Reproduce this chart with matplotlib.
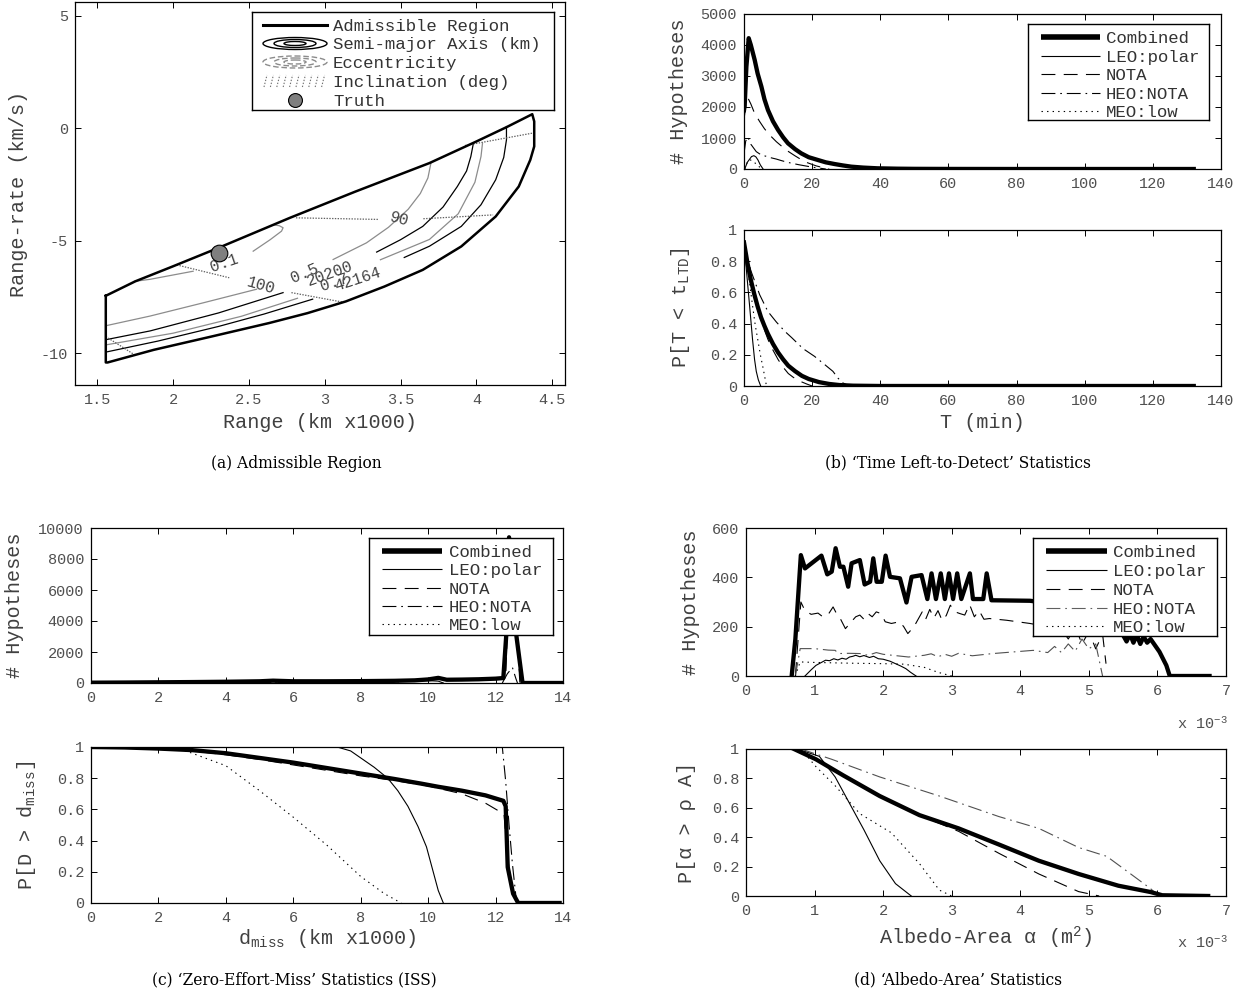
import numpy as np
import matplotlib
matplotlib.use("Agg")
import matplotlib.pyplot as plt
from matplotlib.patches import Ellipse
from matplotlib.ticker import FuncFormatter

nan = np.nan

# ---------------- (a) admissible region ----------------
region_x = [1.556, 1.75, 2.0, 2.3, 2.77, 3.2, 3.69, 4.0, 4.2, 4.368, 4.381, 4.381, 4.355, 4.279,
            4.127, 3.90, 3.646, 3.393, 3.139, 2.886, 2.633, 2.252, 1.872, 1.568, 1.556, 1.556]
region_y = [-7.44, -6.80, -6.13, -5.31, -3.98, -2.82, -1.55, -0.59, 0.05, 0.62, 0.3, -0.81, -1.41, -2.59,
            -3.92, -5.25, -6.29, -7.03, -7.69, -8.21, -8.65, -9.25, -9.84, -10.4, -10.4, -7.44]

# semi-major axis contours (km)
sma1_x = [1.556, 1.848, 2.3, 2.725, nan, 3.342, 3.5, 3.646, 3.78, 3.874, 3.935, 3.963, 3.98]
sma1_y = [-9.39, -9.0, -8.2, -7.30, nan, -5.50, -4.95, -4.36, -3.5, -2.59, -1.9, -1.26, -0.67]
sma2_x = [1.556, 1.9, 2.3, 2.6, 2.92, nan, 3.524, 3.69, 3.9, 4.03, 4.127, 4.18, 4.198, 4.198]
sma2_y = [-9.94, -9.45, -8.8, -8.25, -7.59, nan, -5.74, -5.24, -4.36, -3.4, -2.29, -1.3, -0.52, 0.07]

# eccentricity contours
ecc1_x = [1.746, 1.847, 2.132, nan, 2.528, 2.64, 2.715, 2.725, 2.70, 2.67]
ecc1_y = [-6.80, -6.71, -6.35, nan, -5.46, -4.95, -4.57, -4.42, -4.33, -4.30]
ecc2_x = [1.556, 1.848, 2.2, 2.55, nan, 3.055, 3.275, 3.42, 3.55, 3.63, 3.68, 3.70]
ecc2_y = [-8.77, -8.34, -7.75, -7.15, nan, -5.83, -5.09, -4.4, -3.6, -2.9, -2.21, -1.55]
ecc3_x = [1.556, 2.0, 2.45, 2.82, nan, 3.367, 3.69, 3.88, 3.99, 4.03, 4.04]
ecc3_y = [-9.62, -9.1, -8.35, -7.55, nan, -5.84, -4.94, -3.8, -2.4, -1.26, -0.67]

# inclination contours (deg)
inc1_x = [2.024, 2.37, nan, 2.78, 3.077, 3.12]
inc1_y = [-6.07, -6.64, nan, -7.30, -7.67, -7.72]
inc2_x = [2.81, 3.35, nan, 3.65, 4.11]
inc2_y = [-3.98, -4.05, nan, -4.02, -3.85]
inc3_x = [3.925, 4.37]
inc3_y = [-0.77, -0.22]
inc4_x = [1.556, 1.746]
inc4_y = [-9.25, -10.06]

contour_labels = ["0.1", "100", "0.5", "20200", "0.7", "42164", "90"]
contour_lab_x = [2.335, 2.578, 2.868, 3.033, 3.06, 3.219, 3.494]
contour_lab_y = [-5.97, -6.98, -6.45, -6.45, -6.86, -6.71, -4.03]
contour_lab_rot = [19, -16, 23, 20, 18, 18, -15]

truth_x, truth_y = 2.304, -5.53

# ---------------- (b) time left-to-detect ----------------
b_comb_t = [0, 0.2, 0.7, 1.38, 2, 3.13, 4, 5.1, 6, 7.04, 8.5, 10, 11.5, 12.9, 15, 16.8, 19, 21.7, 24,
            26.6, 29, 31.5, 35, 39.2, 45, 50, 60, 80, 132]
b_comb_h = [1900, 2050, 3300, 4220, 4000, 3520, 3080, 2660, 2250, 1900, 1540, 1260, 1020, 830, 640, 505,
            380, 290, 215, 160, 115, 75, 45, 22, 10, 5, 2, 0, 0]
b_leo_t = [0.2, 1.0, 2.2, 2.9, 3.5, 4.1, 4.8, 5.6]
b_leo_h = [0, 220, 400, 430, 390, 290, 130, 0]
b_nota_t = [0, 0.6, 1.2, 2, 3.1, 4.6, 6, 7.5, 9.5, 11, 12.4, 14.9, 17.8, 21.2, 23, 25]
b_nota_h = [1600, 2100, 2280, 2100, 1800, 1530, 1300, 1100, 880, 740, 610, 430, 235, 100, 50, 0]
b_heo_t = [0, 0.5, 1.1, 2, 3.6, 5.1, 6.5, 8, 9.5, 11, 13, 16, 20, 24]
b_heo_h = [500, 900, 1040, 800, 560, 450, 410, 360, 320, 270, 210, 140, 60, 0]
b_meo_t = [0.2, 1, 1.7, 2.5, 3.5, 4.5, 5.5]
b_meo_h = [0, 230, 300, 260, 170, 70, 0]

bp_comb_t = [0, 1, 2, 3, 4, 5, 6, 7, 8.5, 10, 11.5, 13, 15, 17, 19, 22, 25, 28, 32, 40, 132]
bp_comb_p = [0.92, 0.79, 0.68, 0.59, 0.51, 0.44, 0.385, 0.335, 0.27, 0.215, 0.17, 0.13, 0.095, 0.065,
             0.045, 0.025, 0.013, 0.006, 0.002, 0, 0]
bp_leo_t = [0, 0.8, 1.7, 2.5, 3.1, 3.6, 4.2, 4.9]
bp_leo_p = [0.92, 0.72, 0.50, 0.30, 0.17, 0.094, 0.04, 0]
bp_nota_t = [0, 1, 2, 3, 4, 5, 6, 7, 8.5, 10, 11.5, 13, 14.5, 16.5, 18.5, 20]
bp_nota_p = [0.92, 0.8, 0.69, 0.6, 0.51, 0.43, 0.36, 0.3, 0.23, 0.17, 0.12, 0.08, 0.055, 0.03, 0.012, 0]
bp_heo_t = [0, 1, 2, 3, 4.6, 7, 9.5, 12, 14, 17.3, 20.7, 23.7, 26.1, 27.6, 29, 31]
bp_heo_p = [0.92, 0.82, 0.74, 0.68, 0.585, 0.478, 0.41, 0.35, 0.31, 0.24, 0.19, 0.137, 0.094, 0.05, 0.02, 0]
bp_meo_t = [0, 1, 2, 2.6, 3.3, 4.1, 4.8, 5.6, 6.6]
bp_meo_p = [0.9, 0.77, 0.6, 0.5, 0.39, 0.29, 0.2, 0.115, 0]

# ---------------- (c) zero-effort-miss ----------------
c_comb_d = [0, 1, 2, 3, 4, 5, 5.4, 6, 7, 8, 9, 9.6, 10.0, 10.3, 10.55, 11, 11.5, 12.0, 12.23, 12.33,
            12.4, 12.5, 12.62, 12.8, 14]
c_comb_h = [20, 30, 45, 60, 80, 110, 150, 110, 110, 120, 140, 170, 230, 330, 210, 220, 240, 280, 320,
            3500, 9400, 6500, 3000, 0, 0]
c_leo_d = [7.3, 8, 9, 9.6, 10, 10.3, 10.45]
c_leo_h = [0, 40, 90, 130, 150, 120, 0]
c_nota_d = [0, 2, 4, 5.4, 6, 8, 10, 10.3, 10.6, 12, 12.3, 12.42, 12.65, 12.72]
c_nota_h = [15, 35, 70, 130, 100, 110, 200, 280, 190, 260, 300, 8000, 2800, 0]
c_heo_d = [12.2, 12.35, 12.5, 12.6, 12.65]
c_heo_h = [0, 600, 1000, 300, 0]
c_meo_d = [2.5, 4, 6, 8, 9.2]
c_meo_h = [0, 30, 40, 30, 0]

cp_comb_d = [0, 1, 2, 3, 4, 5, 6, 7, 8, 9, 9.8, 10.3, 11, 11.7, 12.23, 12.3, 12.36, 12.52, 12.67, 13.9]
cp_comb_p = [1.0, 0.997, 0.99, 0.98, 0.96, 0.93, 0.90, 0.865, 0.83, 0.795, 0.765, 0.745, 0.72, 0.69,
             0.655, 0.62, 0.23, 0.06, 0.0, 0.0]
cp_leo_d = [0, 7.3, 7.7, 8.0, 8.4, 8.8, 9.1, 9.4, 9.7, 9.95, 10.15, 10.3, 10.45]
cp_leo_p = [1, 1, 0.975, 0.93, 0.87, 0.8, 0.72, 0.62, 0.49, 0.36, 0.2, 0.08, 0]
cp_nota_d = [0, 2, 3, 4, 5, 6, 7, 8, 9, 10, 11, 11.7, 12.25, 12.35, 12.5, 12.65]
cp_nota_p = [1.0, 0.99, 0.975, 0.95, 0.92, 0.885, 0.85, 0.815, 0.785, 0.75, 0.70, 0.64, 0.57, 0.3, 0.08, 0]
cp_heo_d = [0, 12.2, 12.3, 12.4, 12.5, 12.6, 12.65]
cp_heo_p = [1, 1, 0.78, 0.5, 0.25, 0.05, 0]
cp_meo_d = [0, 2.5, 3, 4, 5, 6, 7, 8, 8.7, 9.2]
cp_meo_p = [1, 1, 0.96, 0.88, 0.72, 0.55, 0.37, 0.17, 0.06, 0]

# ---------------- (d) albedo-area (x 1e-3 m^2) ----------------
d_comb_a = [0.666, 0.72, 0.80, 0.86, 1.10, 1.185, 1.25, 1.307, 1.37, 1.42, 1.49, 1.54, 1.66, 1.73, 1.81,
            1.856, 1.905, 1.98, 2.036, 2.10, 2.245, 2.34, 2.415, 2.56, 2.645, 2.706, 2.77, 2.84, 2.90,
            2.96, 3.02, 3.08, 3.14, 3.265, 3.31, 3.46, 3.51, 3.58, 4.14, 4.6, 5.0, 5.3, 5.45, 5.5,
            5.55, 5.6, 5.65, 5.7, 5.75, 5.8, 5.85, 5.9, 5.95, 6.03, 6.13, 6.18, 6.76]
d_comb_h = [0, 150, 490, 436, 488, 412, 423, 518, 443, 443, 362, 457, 470, 371, 382,
            477, 382, 382, 488, 402, 396, 298, 402, 409, 312, 416, 312, 416, 312,
            416, 312, 416, 312, 416, 312, 312, 416, 307, 305, 290, 260, 220, 180, 165,
            140, 170, 135, 165, 130, 160, 135, 150, 130, 98, 43, 0, 0]
d_leo_a = [0.86, 0.95, 1.02, 1.1, 1.16, 1.22, 1.28, 1.34, 1.4, 1.46, 1.51, 1.56, 1.6, 1.66, 1.72, 1.8,
           1.86, 1.93, 2.0, 2.1, 2.18, 2.26, 2.33, 2.4, 2.48]
d_leo_h = [0, 25, 43, 55, 64, 62, 70, 65, 72, 68, 77, 80, 84, 78, 83, 75, 80, 70, 68, 60, 50, 40, 30, 15, 0]
d_nota_a = [0.72, 0.80, 0.86, 0.95, 1.05, 1.12, 1.2, 1.27, 1.32, 1.38, 1.45, 1.52, 1.6, 1.66, 1.72, 1.78,
            1.84, 1.9, 1.97, 2.03, 2.12, 2.24, 2.3, 2.36, 2.45, 2.57, 2.62, 2.68, 2.74, 2.8, 2.86, 2.92,
            2.98, 3.05, 3.12, 3.19, 3.26, 3.33, 3.4, 3.47, 3.55, 3.8, 4.14, 4.4, 4.6, 4.7, 4.8, 4.9,
            5.0, 5.1, 5.2, 5.25]
d_nota_h = [0, 300, 265, 250, 255, 240, 250, 280, 253, 230, 192, 215, 240, 247, 230, 253,
            240, 260, 253, 220, 213, 220, 200, 172, 200, 260, 230, 270, 235, 265, 225, 245,
            287, 260, 253, 247, 290, 240, 265, 230, 233, 226, 213, 200, 190, 150, 200, 130,
            180, 110, 170, 50]
d_heo_a = [0.72, 0.79, 1.0, 1.2, 1.3, 1.35, 1.5, 1.66, 1.78, 1.9, 2.0, 2.1, 2.37, 2.6, 2.7, 2.8, 2.9,
           3.0, 3.1, 3.3, 3.6, 4.19, 4.4, 4.5, 4.6, 4.7, 4.8, 4.9, 5.0, 5.1, 5.2]
d_heo_h = [0, 111, 111, 105, 104, 91, 92, 91, 84, 95, 88, 85, 77, 84, 90, 78, 88,
           80, 92, 82, 91, 104, 95, 120, 95, 130, 100, 150, 110, 130, 0]
d_meo_a = [0.72, 0.79, 1.0, 1.5, 2.0, 2.3, 2.6, 2.8, 3.0]
d_meo_h = [0, 57, 55, 52, 50, 48, 35, 15, 0]

dp_comb_a = [0.70, 1.02, 1.42, 1.95, 2.53, 3.1, 3.69, 4.27, 4.85, 5.43, 5.9, 6.07, 6.74]
dp_comb_p = [1.0, 0.93, 0.82, 0.68, 0.55, 0.46, 0.35, 0.24, 0.15, 0.07, 0.027, 0.005, 0]
dp_leo_a = [0.75, 1.07, 1.3, 1.51, 1.72, 1.95, 2.18, 2.41]
dp_leo_p = [1.0, 0.95, 0.81, 0.63, 0.45, 0.24, 0.084, 0]
dp_nota_a = [0.75, 1.02, 1.42, 1.95, 2.53, 3.1, 3.69, 4.27, 4.85, 5.15]
dp_nota_p = [1.0, 0.93, 0.82, 0.68, 0.55, 0.44, 0.29, 0.15, 0.03, 0]
dp_heo_a = [0.8, 1.25, 1.95, 2.82, 3.69, 4.27, 4.85, 5.26, 5.61, 5.9, 6.02]
dp_heo_p = [1.0, 0.93, 0.81, 0.68, 0.54, 0.46, 0.33, 0.27, 0.15, 0.05, 0]
dp_meo_a = [0.8, 1.02, 1.3, 1.66, 2.12, 2.53, 2.82, 3.0]
dp_meo_p = [1.0, 0.88, 0.75, 0.56, 0.43, 0.22, 0.04, 0]

series_names = ["Combined", "LEO:polar", "NOTA", "HEO:NOTA", "MEO:low"]

# ---------------- style ----------------
plt.rcParams["font.family"] = ["Liberation Mono", "DejaVu Sans"]
plt.rcParams["axes.unicode_minus"] = False
plt.rcParams["lines.scale_dashes"] = False
plt.rcParams["mathtext.fontset"] = "custom"
plt.rcParams["mathtext.rm"] = "Liberation Mono"
plt.rcParams["mathtext.it"] = "Liberation Mono"
plt.rcParams["mathtext.bf"] = "Liberation Mono:bold"

TICK_C = "#505050"
LAB_C = "#404040"
LEG_C = "#333333"
STY = {
    "Combined": dict(color="black", lw=3.1, ls="-"),
    "LEO:polar": dict(color="black", lw=0.8, ls="-"),
    "NOTA": dict(color="black", lw=0.8, ls=(0, (10, 6))),
    "HEO:NOTA": dict(color="black", lw=0.8, ls=(0, (10, 3.5, 1.2, 3.5))),
    "MEO:low": dict(color="black", lw=0.8, ls=(0, (1, 3))),
}

W, H = 1245, 999
fig = plt.figure(figsize=(W / 100, H / 100), dpi=100)
fmt = FuncFormatter(lambda v, p: f"{v:g}")


def px_axes(l, t, r, b):
    return fig.add_axes([l / W, 1 - b / H, (r - l) / W, (b - t) / H])


def style(ax, box, ylab=None, ylab_x=None, xlab=None, xlab_y=None):
    ax.tick_params(direction="in", top=True, right=True, length=4, width=0.7,
                   labelsize=11, labelcolor=TICK_C)
    ax.tick_params(axis="x", pad=6)
    ax.tick_params(axis="y", pad=5)
    for s in ax.spines.values():
        s.set_linewidth(0.9)
    ax.xaxis.set_major_formatter(fmt)
    ax.yaxis.set_major_formatter(fmt)
    l, t, r, b = box
    if ylab is not None:
        ax.set_ylabel(ylab, fontsize=14.5, color=LAB_C, va="center", ha="center")
        ax.yaxis.set_label_coords((ylab_x - l) / (r - l), 0.5)
    if xlab is not None:
        ax.set_xlabel(xlab, fontsize=14.5, color=LAB_C, va="center", ha="center")
        ax.xaxis.set_label_coords(0.5, 1 - (xlab_y - t) / (b - t))


def draw_series(ax, xs, ys, heo_color="black"):
    for name, x, y in zip(series_names, xs, ys):
        st = STY[name]
        col = heo_color if name == "HEO:NOTA" else st["color"]
        ax.plot(x, y, color=col, lw=st["lw"], ls=st["ls"], zorder=3 if name == "Combined" else 2)


def legend_box(l, t, r, b):
    # a framed box laid out in figure pixels (y downwards)
    lax = fig.add_axes([l / W, 1 - b / H, (r - l) / W, (b - t) / H])
    lax.set_xlim(l, r)
    lax.set_ylim(b, t)
    lax.set_xticks([])
    lax.set_yticks([])
    for s in lax.spines.values():
        s.set_linewidth(1.0)
    return lax


def series_legend(box, rows, hx0, hx1, tx, heo_color="black"):
    lax = legend_box(*box)
    for name, y in zip(series_names, rows):
        st = STY[name]
        col = heo_color if name == "HEO:NOTA" else st["color"]
        lw = 4.0 if name == "Combined" else st["lw"]
        lax.plot([hx0, hx1], [y, y], color=col, lw=lw, ls=st["ls"], solid_capstyle="butt")
        lax.text(tx, y, name, fontsize=12.5, color=LEG_C, va="center_baseline", ha="left")


# ---------------- panel (a) ----------------
A = (75, 2, 565, 385)
axa = px_axes(*A)
axa.plot(region_x, region_y, color="black", lw=1.8, zorder=4)
for x, y in [(sma1_x, sma1_y), (sma2_x, sma2_y)]:
    axa.plot(x, y, color="black", lw=0.9)
for x, y in [(ecc1_x, ecc1_y), (ecc2_x, ecc2_y), (ecc3_x, ecc3_y)]:
    axa.plot(x, y, color="#8c8c8c", lw=0.9)
for x, y in [(inc1_x, inc1_y), (inc2_x, inc2_y), (inc3_x, inc3_y), (inc4_x, inc4_y)]:
    axa.plot(x, y, color="#606060", lw=0.9, ls=(0, (1, 1)))
for s, x, y, r in zip(contour_labels, contour_lab_x, contour_lab_y, contour_lab_rot):
    axa.text(x, y, s, rotation=r, fontsize=11.5, color="#444444", ha="center", va="center",
             rotation_mode="anchor")
axa.plot([truth_x], [truth_y], "o", ms=12, mfc="#7f7f7f", mec="black", mew=0.8, zorder=5)
axa.set_xlim(1.353, 4.584)
axa.set_ylim(-11.4, 5.6)
axa.set_xticks([1.5, 2, 2.5, 3, 3.5, 4, 4.5])
axa.set_yticks([-10, -5, 0, 5])
style(axa, A, "Range-rate (km/s)", 19, "Range (km x1000)", 422)

lax = legend_box(252, 12, 554, 110)
rows_a = [25, 43.5, 62, 81, 100]
lax.plot([263, 327], [rows_a[0]] * 2, color="black", lw=2.2)
for w_, h_ in [(64, 12), (42, 8), (22, 4)]:
    lax.add_patch(Ellipse((295, rows_a[1]), w_, h_, fill=False, ec="black", lw=1.0))
    lax.add_patch(Ellipse((295, rows_a[2]), w_, h_, fill=False, ec="#8c8c8c", lw=1.0, ls=(0, (4, 2))))
for i in range(10):
    x0 = 264 + i * 6.4
    lax.plot([x0, x0 + 3], [rows_a[3] + 6, rows_a[3] - 6], color="#707070", lw=0.8, ls=(0, (1, 1.2)))
lax.plot([295], [rows_a[4]], "o", ms=10, mfc="#7f7f7f", mec="black", mew=0.8)
for s, y in zip(["Admissible Region", "Semi-major Axis (km)", "Eccentricity", "Inclination (deg)", "Truth"],
                rows_a):
    lax.text(333, y, s, fontsize=12.5, color=LEG_C, va="center_baseline", ha="left")

# ---------------- panel (b) ----------------
B1 = (744, 14, 1221, 169)
axb1 = px_axes(*B1)
draw_series(axb1, [b_comb_t, b_leo_t, b_nota_t, b_heo_t, b_meo_t],
            [b_comb_h, b_leo_h, b_nota_h, b_heo_h, b_meo_h])
axb1.set_xlim(0, 140)
axb1.set_ylim(0, 5000)
axb1.set_xticks(range(0, 141, 20))
axb1.set_yticks(range(0, 5001, 1000))
style(axb1, B1, "# Hypotheses", 679)
series_legend((1028, 24, 1209, 120), [36.7, 55.7, 74.5, 92.7, 110.7], 1041, 1100, 1106)

B2 = (744, 230, 1221, 386)
axb2 = px_axes(*B2)
draw_series(axb2, [bp_comb_t, bp_leo_t, bp_nota_t, bp_heo_t, bp_meo_t],
            [bp_comb_p, bp_leo_p, bp_nota_p, bp_heo_p, bp_meo_p])
axb2.set_xlim(0, 140)
axb2.set_ylim(0, 1)
axb2.set_xticks(range(0, 141, 20))
axb2.set_yticks([0, 0.2, 0.4, 0.6, 0.8, 1])
style(axb2, B2, r"P[T < t$_{\mathrm{LTD}}$]", 680, "T (min)", 423)

# ---------------- panel (c) ----------------
C1 = (91, 528, 563, 683)
axc1 = px_axes(*C1)
draw_series(axc1, [c_comb_d, c_leo_d, c_nota_d, c_heo_d, c_meo_d],
            [c_comb_h, c_leo_h, c_nota_h, c_heo_h, c_meo_h])
axc1.set_xlim(0, 14)
axc1.set_ylim(0, 10000)
axc1.set_xticks(range(0, 15, 2))
axc1.set_yticks(range(0, 10001, 2000))
style(axc1, C1, "# Hypotheses", 15)
series_legend((369, 538, 553, 635), [551, 569.3, 587.6, 606, 624], 382, 442, 449)

C2 = (91, 747, 563, 903)
axc2 = px_axes(*C2)
draw_series(axc2, [cp_comb_d, cp_leo_d, cp_nota_d, cp_heo_d, cp_meo_d],
            [cp_comb_p, cp_leo_p, cp_nota_p, cp_heo_p, cp_meo_p])
axc2.set_xlim(0, 14)
axc2.set_ylim(0, 1)
axc2.set_xticks(range(0, 15, 2))
axc2.set_yticks([0, 0.2, 0.4, 0.6, 0.8, 1])
style(axc2, C2, r"P[D > d$_{\mathrm{miss}}$]", 27, r"d$_{\mathrm{miss}}$ (km x1000)", 938)

# ---------------- panel (d) ----------------
D1 = (746, 528, 1226, 676)
axd1 = px_axes(*D1)
draw_series(axd1, [d_comb_a, d_leo_a, d_nota_a, d_heo_a, d_meo_a],
            [d_comb_h, d_leo_h, d_nota_h, d_heo_h, d_meo_h], heo_color="#505050")
axd1.set_xlim(0, 7)
axd1.set_ylim(0, 600)
axd1.set_xticks(range(0, 8))
axd1.set_yticks(range(0, 601, 200))
style(axd1, D1, "# Hypotheses", 690)
series_legend((1033, 538, 1217, 636), [551, 570.5, 589.3, 607.7, 625.7], 1046, 1107, 1113,
              heo_color="#606060")

D2 = (746, 749, 1226, 896)
axd2 = px_axes(*D2)
draw_series(axd2, [dp_comb_a, dp_leo_a, dp_nota_a, dp_heo_a, dp_meo_a],
            [dp_comb_p, dp_leo_p, dp_nota_p, dp_heo_p, dp_meo_p], heo_color="#505050")
axd2.set_xlim(0, 7)
axd2.set_ylim(0, 1)
axd2.set_xticks(range(0, 8))
axd2.set_yticks([0, 0.2, 0.4, 0.6, 0.8, 1])
style(axd2, D2, "P[α > ρ A]", 686, r"Albedo-Area α (m$^{2}$)", 938)

for yy in (722, 941):
    fig.text(1228 / W, 1 - yy / H, r"x 10$^{-3}$", fontsize=11, color=TICK_C, ha="right",
             va="center_baseline")

# ---------------- captions ----------------
cap_kw = dict(family="DejaVu Serif", fontsize=11.2, color="black", ha="center", va="center")
fig.text(296 / W, 1 - 463 / H, "(a) Admissible Region", **cap_kw)
fig.text(958 / W, 1 - 463 / H, "(b) \u2018Time Left-to-Detect\u2019 Statistics", **cap_kw)
fig.text(294 / W, 1 - 980 / H, "(c) \u2018Zero-Effort-Miss\u2019 Statistics (ISS)", **cap_kw)
fig.text(958 / W, 1 - 980 / H, "(d) \u2018Albedo-Area\u2019 Statistics", **cap_kw)

fig.savefig("out.png", dpi=100)
